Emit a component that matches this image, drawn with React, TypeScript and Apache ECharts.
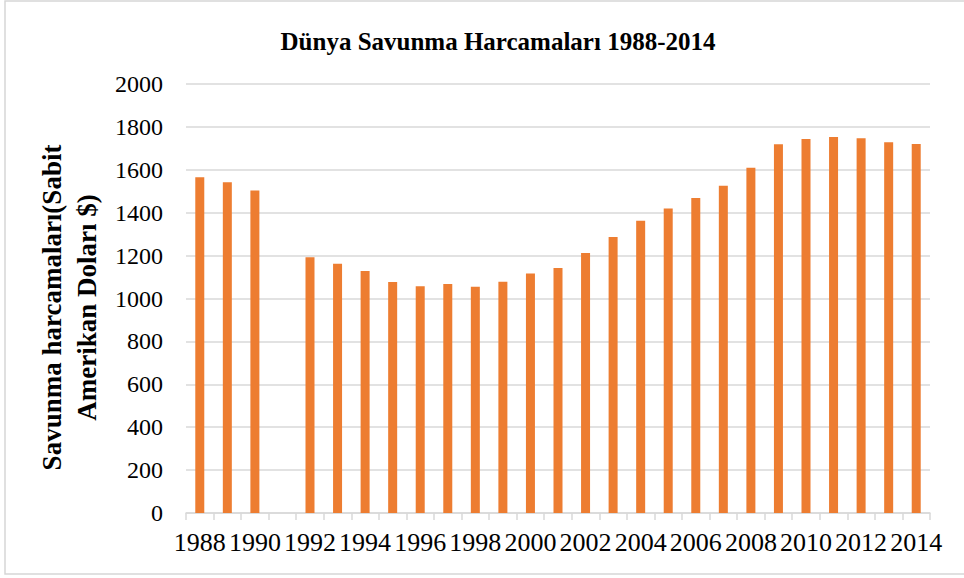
import React, { useEffect, useRef } from "react";
import * as echarts from "echarts";

const years: string[] = [
  "1988", "1989", "1990", "1991", "1992", "1993", "1994", "1995", "1996",
  "1997", "1998", "1999", "2000", "2001", "2002", "2003", "2004", "2005",
  "2006", "2007", "2008", "2009", "2010", "2011", "2012", "2013", "2014",
];

const spending: (number | null)[] = [
  1565, 1542, 1504, null, 1192, 1162, 1128, 1077, 1057,
  1068, 1055, 1078, 1116, 1142, 1212, 1287, 1363, 1419,
  1469, 1526, 1610, 1719, 1744, 1753, 1747, 1728, 1720,
];

const titleText = "Dünya Savunma Harcamaları 1988-2014";
const yAxisName = "Savunma harcamaları(Sabit\nAmerikan Doları $)";

const FONT = "'Liberation Serif', 'Times New Roman', serif";

export default function App() {
  const ref = useRef<HTMLDivElement>(null);

  useEffect(() => {
    if (!ref.current) return;
    const chart = echarts.init(ref.current, undefined, { renderer: "svg" });
    chart.setOption({
      animation: false,
      backgroundColor: "#ffffff",
      title: {
        text: titleText,
        left: 493,
        textAlign: "center",
        top: 24,
        textStyle: {
          fontFamily: FONT,
          fontWeight: "bold",
          fontSize: 25,
          color: "#000000",
        },
      },
      graphic: [
        {
          type: "rect",
          shape: { x: 5, y: 1, width: 970, height: 573 },
          style: { fill: "none", stroke: "#d6d6d6", lineWidth: 1.5 },
          silent: true,
        },
      ],
      grid: {
        left: 186,
        right: 34,
        top: 84,
        bottom: 65,
        containLabel: false,
      },
      xAxis: {
        type: "category",
        data: years,
        boundaryGap: true,
        axisLine: { show: true, lineStyle: { color: "#d9d9d9", width: 1.5 } },
        axisTick: {
          show: true,
          alignWithLabel: false,
          interval: 0,
          length: 7,
          lineStyle: { color: "#d9d9d9", width: 1.5 },
        },
        axisLabel: {
          interval: 1,
          margin: 16,
          fontFamily: FONT,
          fontSize: 26,
          color: "#000000",
        },
        splitLine: { show: false },
      },
      yAxis: {
        type: "value",
        min: 0,
        max: 2000,
        interval: 200,
        name: yAxisName,
        nameLocation: "middle",
        nameGap: 79,
        nameRotate: 90,
        nameTextStyle: {
          fontFamily: FONT,
          fontWeight: "bold",
          fontSize: 27,
          lineHeight: 35,
          color: "#000000",
          align: "center",
          padding: [0, 18, 0, 0],
        },
        axisLine: { show: false },
        axisTick: { show: false },
        axisLabel: {
          margin: 23,
          fontFamily: FONT,
          fontSize: 24,
          color: "#000000",
          formatter: (v: number) => String(v),
        },
        splitLine: { show: true, lineStyle: { color: "#d9d9d9", width: 1.5 } },
      },
      series: [
        {
          type: "bar",
          data: spending,
          barWidth: 9,
          itemStyle: { color: "#ED7D31" },
        },
      ],
    });
    return () => chart.dispose();
  }, []);

  return (
    <div
      ref={ref}
      style={{ position: "fixed", left: 0, top: 0, width: 964, height: 578 }}
    />
  );
}
